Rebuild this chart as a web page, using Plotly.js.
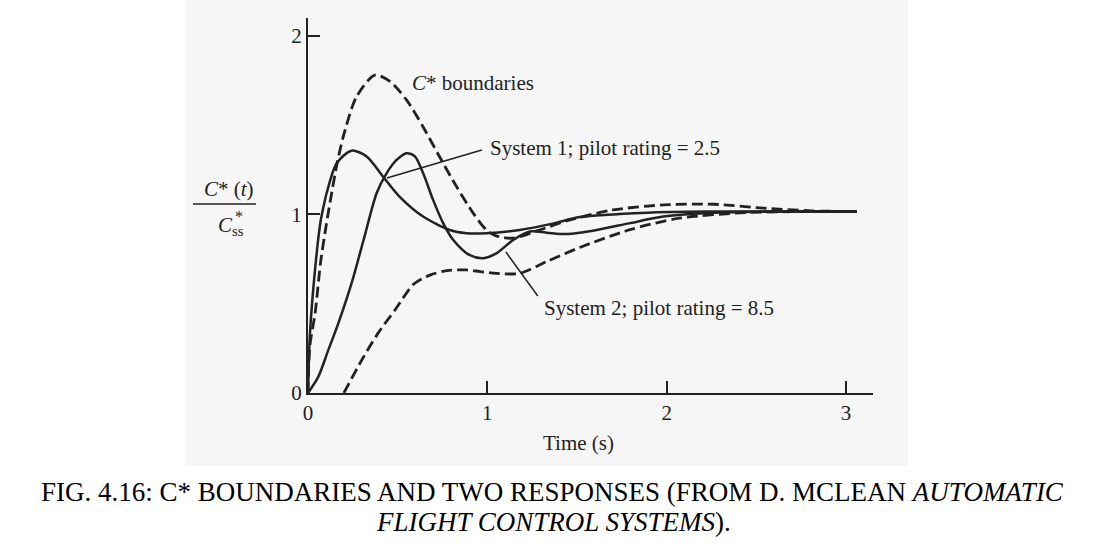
<!DOCTYPE html>
<html>
<head>
<meta charset="utf-8">
<script src="https://cdn.plot.ly/plotly-3.0.1.min.js"></script>
<style>
html,body{margin:0;padding:0;background:#ffffff;}
#chart{width:1105px;height:553px;}
</style>
</head>
<body>
<div id="chart"></div>
<script>
// ---- Data ----
// Upper C* boundary (dashed)
var upperT = [0, 0.01, 0.04, 0.07, 0.1, 0.125, 0.165, 0.206, 0.271, 0.373, 0.457, 0.55, 0.642, 0.735, 0.828, 0.921, 0.995, 1.05, 1.144, 1.29, 1.46, 1.70, 1.98, 2.26, 2.54, 2.81, 3.06];
var upperY = [0, 0.26, 0.45, 0.73, 0.93, 1.08, 1.30, 1.47, 1.66, 1.78, 1.745, 1.64, 1.49, 1.32, 1.156, 1.007, 0.913, 0.88, 0.867, 0.913, 0.969, 1.025, 1.053, 1.057, 1.035, 1.02, 1.016];
// Lower C* boundary (dashed)
var lowerT = [0.2, 0.3, 0.39, 0.485, 0.59, 0.68, 0.773, 0.884, 0.96, 1.05, 1.18, 1.33, 1.515, 1.79, 2.07, 2.44, 2.8, 3.06];
var lowerY = [0, 0.185, 0.334, 0.465, 0.61, 0.66, 0.685, 0.689, 0.68, 0.67, 0.67, 0.736, 0.815, 0.913, 0.979, 1.01, 1.016, 1.016];
// System 1; pilot rating = 2.5
var sys1T = [0, 0.011, 0.045, 0.07, 0.09, 0.104, 0.16, 0.243, 0.327, 0.42, 0.51, 0.642, 0.79, 0.884, 0.995, 1.18, 1.37, 1.515, 1.89, 2.26, 2.6, 3.06];
var sys1Y = [0, 0.334, 0.75, 0.96, 1.06, 1.12, 1.287, 1.357, 1.325, 1.21, 1.10, 0.988, 0.913, 0.895, 0.895, 0.913, 0.95, 0.985, 1.01, 1.016, 1.016, 1.016];
// System 2; pilot rating = 8.5
var sys2T = [0, 0.057, 0.113, 0.169, 0.243, 0.31, 0.383, 0.438, 0.494, 0.55, 0.596, 0.642, 0.698, 0.754, 0.81, 0.90, 0.977, 1.05, 1.144, 1.237, 1.33, 1.44, 1.61, 1.79, 1.98, 2.26, 2.6, 3.06];
var sys2Y = [0, 0.09, 0.24, 0.39, 0.615, 0.857, 1.12, 1.23, 1.305, 1.343, 1.325, 1.23, 1.08, 0.95, 0.857, 0.773, 0.755, 0.782, 0.857, 0.904, 0.898, 0.89, 0.913, 0.95, 0.988, 1.01, 1.016, 1.016];
// Tick labels
var xTickVals = [0, 1, 2, 3];
var xTickText = ['0', '1', '2', '3'];
var yTickVals = [0, 1, 2];
var yTickText = ['0', '1', '2'];

var SERIF = '"Liberation Serif", "Times New Roman", serif';
var INK = '#222222';
var FS = 21;

function trace(t, y, dash, w) {
  return {x: t, y: y, type: 'scatter', mode: 'lines',
          line: {color: INK, width: w, dash: dash, shape: 'spline', smoothing: 0.8},
          hoverinfo: 'skip', showlegend: false};
}

var data = [
  trace(upperT, upperY, '11px,5px', 2.8),
  trace(lowerT, lowerY, '11px,5px', 2.8),
  trace(sys1T, sys1Y, 'solid', 2.5),
  trace(sys2T, sys2Y, 'solid', 2.5)
];

// plot area geometry (paper <-> pixel helpers for background & labels)
var L = 308, T = 18, W = 565, H = 375;
function px2paperX(p) { return (p - L) / W; }
function px2paperY(p) { return (T + H - p) / H; }

var layout = {
  width: 1105, height: 553,
  margin: {l: L, r: 1105 - L - W, t: T, b: 553 - T - H},
  paper_bgcolor: '#ffffff',
  plot_bgcolor: 'rgba(0,0,0,0)',
  font: {family: SERIF, color: INK, size: FS},
  xaxis: {
    range: [0, 3.15], showgrid: false, zeroline: false,
    showline: true, linecolor: INK, linewidth: 2,
    ticks: 'inside', ticklen: 12, tickwidth: 2, tickcolor: INK,
    tickvals: xTickVals, ticktext: xTickText,
    tickfont: {family: SERIF, size: FS, color: INK}
  },
  yaxis: {
    range: [0, 2.1], showgrid: false, zeroline: false,
    showline: true, linecolor: INK, linewidth: 2,
    ticks: 'inside', ticklen: 12, tickwidth: 2, tickcolor: INK,
    tickvals: yTickVals, ticktext: yTickText,
    tickfont: {family: SERIF, size: FS, color: INK}
  },
  shapes: [
    {type: 'rect', xref: 'paper', yref: 'paper', layer: 'below',
     x0: px2paperX(185), x1: px2paperX(908), y0: px2paperY(466), y1: px2paperY(0),
     fillcolor: '#f6f6f6', line: {width: 0}},
    {type: 'line', xref: 'paper', yref: 'paper',
     x0: px2paperX(193), x1: px2paperX(256), y0: px2paperY(204), y1: px2paperY(204),
     line: {color: INK, width: 1.5}},
    // pointer lines for the labels
    {type: 'line', xref: 'x', yref: 'y', x0: 0.44, y0: 1.204, x1: 0.969, y1: 1.361,
     line: {color: INK, width: 1.5}},
    {type: 'line', xref: 'x', yref: 'y', x0: 1.103, y0: 0.79, x1: 1.281, y1: 0.543,
     line: {color: INK, width: 1.5}}
  ],
  annotations: [
    {xref: 'paper', yref: 'paper', x: px2paperX(229), y: px2paperY(189), showarrow: false,
     xanchor: 'center', yanchor: 'middle', text: '<i>C</i>* (<i>t</i>)', font: {size: FS}},
    {xref: 'paper', yref: 'paper', x: px2paperX(216), y: px2paperY(226), showarrow: false,
     xanchor: 'left', yanchor: 'middle', text: '<i>C</i><sub>ss</sub>', font: {size: FS}},
    {xref: 'paper', yref: 'paper', x: px2paperX(233), y: px2paperY(216), showarrow: false,
     xanchor: 'left', yanchor: 'middle', text: '*', font: {size: 16}},
    {xref: 'paper', yref: 'paper', x: px2paperX(578), y: px2paperY(443), showarrow: false,
     xanchor: 'center', yanchor: 'middle', text: 'Time (s)', font: {size: FS}},
    {x: 0.568, y: 1.737, xref: 'x', yref: 'y', showarrow: false, xanchor: 'left', yanchor: 'middle',
     text: '<i>C</i>* boundaries'},
    {x: 1.003, y: 1.373, xref: 'x', yref: 'y', showarrow: false, xanchor: 'left', yanchor: 'middle',
     text: 'System 1; pilot rating = 2.5'},
    {x: 1.304, y: 0.476, xref: 'x', yref: 'y', showarrow: false, xanchor: 'left', yanchor: 'middle',
     text: 'System 2; pilot rating = 8.5'},
    {xref: 'paper', yref: 'paper', x: px2paperX(552), y: px2paperY(492), showarrow: false,
     xanchor: 'center', yanchor: 'middle', font: {size: 27, color: '#000000'},
     text: 'FIG. 4.16: C* BOUNDARIES AND TWO RESPONSES (FROM D. MCLEAN <i>AUTOMATIC</i>'},
    {xref: 'paper', yref: 'paper', x: px2paperX(553), y: px2paperY(522), showarrow: false,
     xanchor: 'center', yanchor: 'middle', font: {size: 27, color: '#000000'},
     text: '<i>FLIGHT CONTROL SYSTEMS</i>).'}
  ]
};

Plotly.newPlot('chart', data, layout, {displayModeBar: false, staticPlot: true});
</script>
</body>
</html>
